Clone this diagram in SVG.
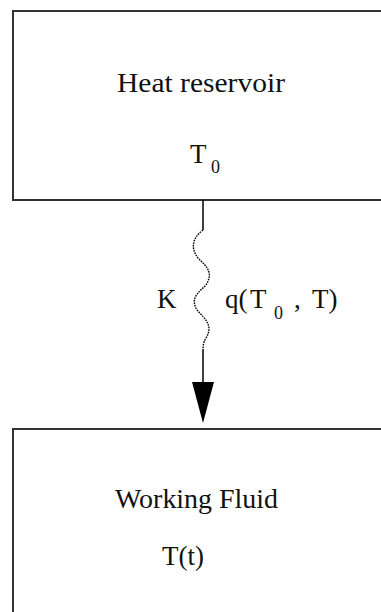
<svg xmlns="http://www.w3.org/2000/svg" width="381" height="612" viewBox="0 0 381 612">
<style>
.box{fill:#fff;stroke:#333;stroke-width:2}
.t{font-family:"Liberation Serif","Times New Roman",serif;font-size:27px;fill:#111}
.s{font-family:"Liberation Serif","Times New Roman",serif;font-size:18px;fill:#111}
.ln{fill:none;stroke:#000;stroke-width:1.5}
.wv{fill:none;stroke:#000;stroke-width:1.4;stroke-dasharray:1.6 1}
</style>
<rect width="381" height="612" fill="#fff"/>
<g id="heat-reservoir">
<rect class="box" x="13" y="11" width="400" height="189"/>
<text class="t" x="117" y="92" textLength="168" lengthAdjust="spacingAndGlyphs">Heat reservoir</text>
<text class="t" x="190" y="163">T</text>
<text class="s" x="211" y="173">0</text>
</g>
<g id="working-fluid">
<rect class="box" x="13" y="429" width="400" height="200"/>
<text class="t" x="115" y="508" textLength="163" lengthAdjust="spacingAndGlyphs">Working Fluid</text>
<text class="t" x="162" y="565">T(t)</text>
</g>
<g id="connectors">
<line class="ln" x1="203" y1="200" x2="203" y2="230"/>
<path class="wv" d="M203,230 C190,240 192,250 198,258 C206,266 214,272 206,285 C198,293 190,298 197,310 C204,318 214,325 206,338 C203,343 203,347 203,350"/>
<line class="ln" x1="203" y1="350" x2="203" y2="384"/>
<polygon points="192,382 214,382 203,423" fill="#000"/>
<text class="t" x="157" y="308">K</text>
<text class="t" x="225" y="308">q(</text>
<text class="t" x="250" y="308">T</text>
<text class="s" x="274" y="319">0</text>
<text class="t" x="294" y="308">,</text>
<text class="t" x="312" y="308">T)</text>
</g>
</svg>
